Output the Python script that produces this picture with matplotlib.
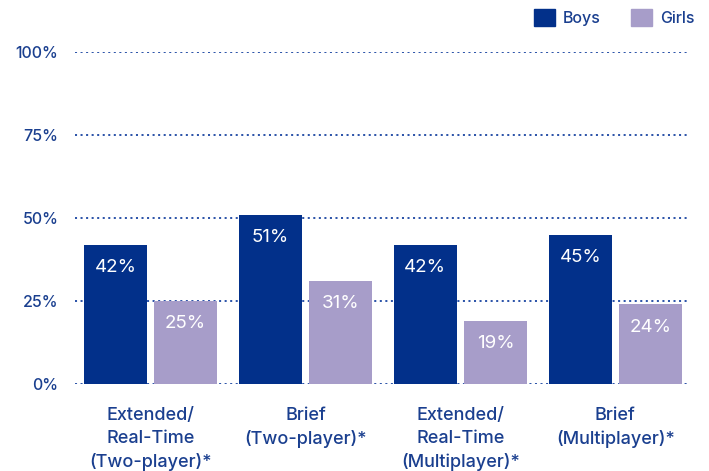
import matplotlib.pyplot as plt
import numpy as np
from matplotlib.patches import Patch

plt.rcParams['font.family'] = ['Inter', 'DejaVu Sans']

categories = ['Extended/\nReal-Time\n(Two-player)*', 'Brief\n(Two-player)*',
              'Extended/\nReal-Time\n(Multiplayer)*', 'Brief\n(Multiplayer)*']
boys = [42, 51, 42, 45]
girls = [25, 31, 19, 24]
yticks = [0, 25, 50, 75, 100]

navy = '#02308a'
lilac = '#a79dc9'
text_blue = '#1a3f8f'

fig = plt.figure(figsize=(7.09, 4.71), dpi=100)
ax = fig.add_axes([0.1058, 0.1847, 0.867, 0.705])

x = np.arange(len(categories))
w = 0.406
off = 0.226
b1 = ax.bar(x - off, boys, w, color=navy, zorder=3)
b2 = ax.bar(x + off, girls, w, color=lilac, zorder=3)

# value labels sit just inside the top of each bar
for bars, vals in ((b1, boys), (b2, girls)):
    for rect, v in zip(bars, vals):
        ax.annotate(f'{v}%', (rect.get_x() + rect.get_width() / 2, v),
                    xytext=(0, -16.5), textcoords='offset points',
                    ha='center', va='center', color='white', fontsize=13.5,
                    zorder=4)

ax.set_xlim(-0.487, 3.48)
ax.set_ylim(0, 100)
ax.set_yticks(yticks)
ax.set_yticklabels([f'{t}%' for t in yticks], fontweight='medium')
ax.set_xticks(x)
ax.set_xticklabels(categories, fontsize=13, color=text_blue, linespacing=1.45,
                   fontweight='medium')
ax.tick_params(axis='y', length=0, pad=12, labelsize=11.5, labelcolor=text_blue)
ax.tick_params(axis='x', length=0, pad=16.5)

ax.grid(axis='y', color='#2a52a8', linestyle=(0, (1.05, 1.8)), linewidth=1.4, zorder=0)
ax.set_axisbelow(True)
for s in ax.spines.values():
    s.set_visible(False)

handles = [Patch(color=navy, label='Boys'), Patch(color=lilac, label='Girls')]
fig.legend(handles=handles, ncol=2, loc='upper right', bbox_to_anchor=(1.0, 1.012),
           frameon=False, handlelength=1.3, handleheight=1.3, handletextpad=0.5,
           columnspacing=1.9, labelcolor=text_blue,
           prop={'size': 11.5, 'weight': 'medium'})

fig.savefig('out.png', dpi=100)
